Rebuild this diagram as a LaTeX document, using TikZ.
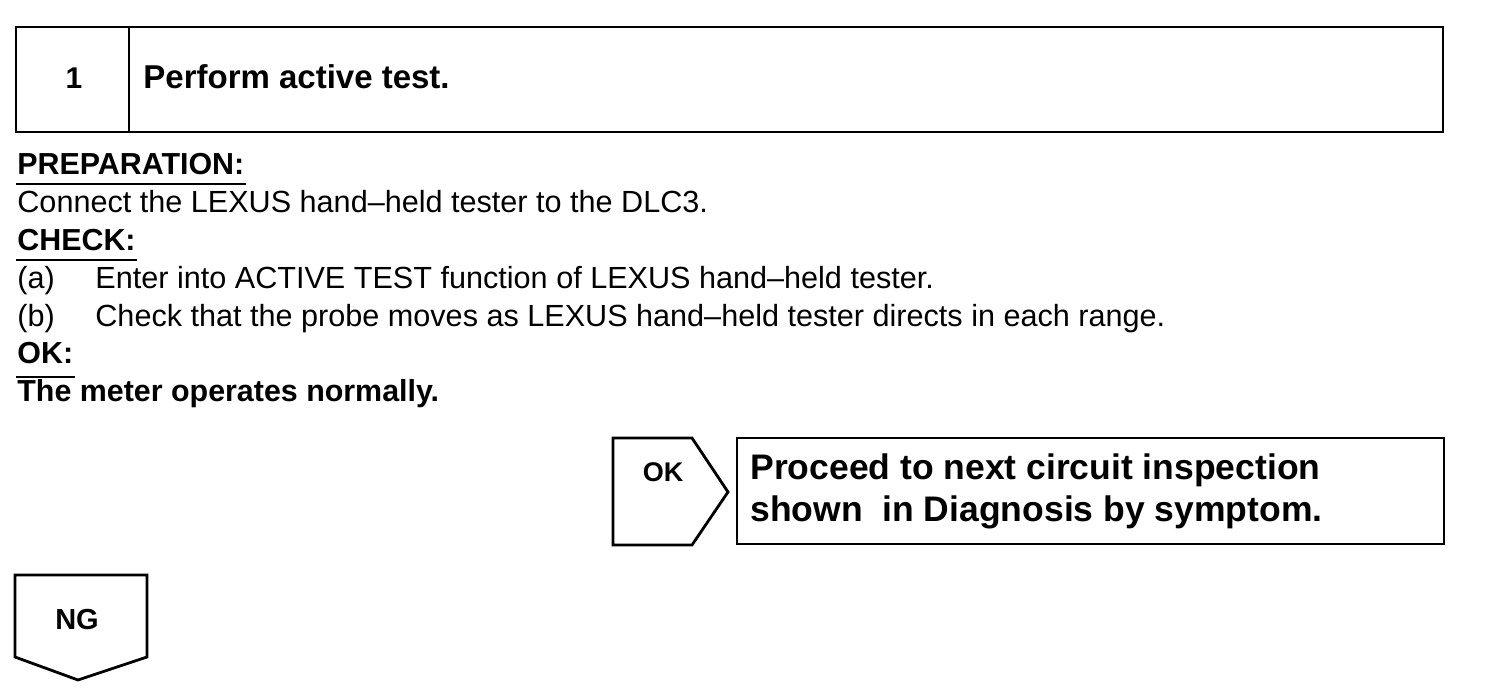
\documentclass[tikz,border=0pt]{standalone}
\usepackage{fontspec}
\setmainfont{Liberation Sans}
\begin{document}
\begin{tikzpicture}[x=0.5pt,y=-0.5pt,inner sep=0pt,line width=1.4pt,
  txt/.style={anchor=base west,font=\fontsize{15.3}{18}\selectfont},
  btxt/.style={anchor=base west,font=\fontsize{15.2}{18}\selectfont\bfseries},
  big/.style={anchor=base west,font=\fontsize{17.75}{21}\selectfont\bfseries},
  tag/.style={font=\fontsize{13.5}{16}\selectfont\bfseries},
  uline/.style={line width=1pt}]
\useasboundingbox (0,0) rectangle (1504,688);
\draw (16,27) rectangle (1443,132);
\draw (129,27) -- (129,132);
\node[tag,anchor=base,font=\fontsize{15}{18}\selectfont\bfseries] (num) at (74,89) {1};
\node[btxt,font=\fontsize{16.5}{20}\selectfont\bfseries] (title) at (142,89) {Perform active test.};
\node[btxt] (prep) at (16,175) {PREPARATION:};
\draw[uline] ([yshift=-4.5pt]prep.base west) -- ([yshift=-4.5pt]prep.base east);
\node[txt] (conn) at (16,212.8) {Connect the LEXUS hand--held tester to the DLC3.};
\node[btxt] (check) at (16,250.6) {CHECK:};
\draw[uline] ([yshift=-4.5pt]check.base west) -- ([yshift=-4.5pt]check.base east);
\node[txt] (itema) at (16,288.4) {(a)};
\node[txt] (texta) at (94,288.4) {Enter into ACTIVE TEST function of LEXUS hand--held tester.};
\node[txt] (itemb) at (16,326.2) {(b)};
\node[txt] (textb) at (94,326.2) {Check that the probe moves as LEXUS hand--held tester directs in each range.};
\node[btxt] (okhead) at (16,364) {OK:};
\draw[uline] ([yshift=-6.5pt]okhead.base west) -- ([yshift=-6.5pt]okhead.base east);
\node[btxt] (okspec) at (16,401.8) {The meter operates normally.};
\draw (613,438) -- (692,438) -- (728,492) -- (692,545) -- (613,545) -- cycle;
\node[tag] (ok) at (663,472) {OK};
\draw (737,438) rectangle (1444,544);
\node[big] (next1) at (749,480) {Proceed to next circuit inspection};
\node[big] (next2) at (749,522) {shown\ \ in Diagnosis by symptom.};
\draw (15,575) -- (147,575) -- (147,657) -- (78,680) -- (15,657) -- cycle;
\node[tag,font=\fontsize{14.5}{17}\selectfont\bfseries] (ng) at (77,620) {NG};
\end{tikzpicture}
\end{document}
